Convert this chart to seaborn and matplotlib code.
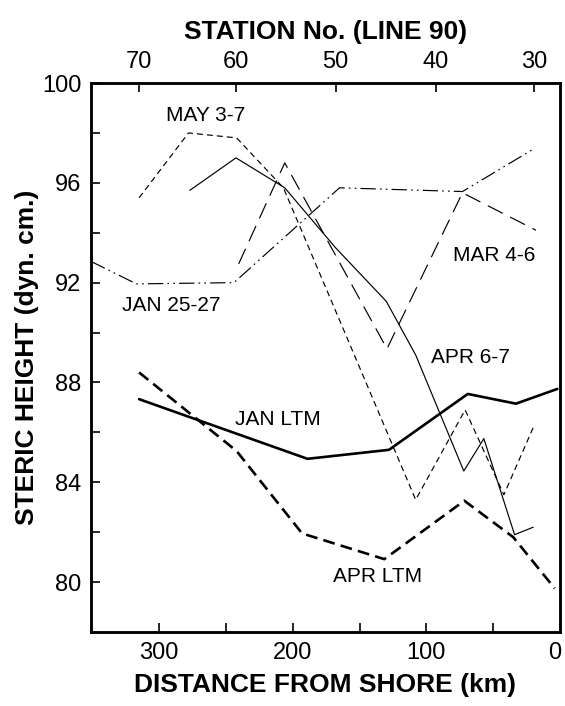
import matplotlib
matplotlib.use('Agg')
import matplotlib.pyplot as plt
import matplotlib.transforms as mtransforms
import seaborn as sns

# distance from shore (km) / steric height (dyn. cm.)
may_km = [315, 278, 242, 207, 108, 71, 42, 20]
may_val = [95.4, 98.0, 97.8, 95.8, 83.3, 86.9, 83.5, 86.2]

apr67_km = [277, 242.5, 206, 168, 130, 108, 72, 57, 34, 20]
apr67_val = [95.7, 97.0, 95.8, 93.4, 91.25, 89.1, 84.45, 85.75, 81.9, 82.2]

mar_km = [240.5, 206, 129.5, 73, 18]
mar_val = [92.75, 96.8, 89.35, 95.6, 94.1]

jan2527_km = [351, 317, 244, 165, 73, 20]
jan2527_val = [92.85, 91.95, 92.0, 95.8, 95.65, 97.35]

janltm_km = [315, 189, 128, 69, 33, 2]
janltm_val = [87.33, 84.94, 85.3, 87.54, 87.15, 87.74]

aprltm_km = [315, 242, 193, 131.5, 71.6, 35, 4]
aprltm_val = [88.4, 85.25, 81.95, 80.92, 83.26, 81.8, 79.75]

# station positions along line 90 (top axis)
station_km = [315, 242.5, 168, 93, 19.5]
station_labels = ['70', '60', '50', '40', '30']

sns.set_style('ticks')
plt.rcParams['font.family'] = ['Liberation Sans', 'DejaVu Sans']
plt.rcParams['lines.scale_dashes'] = False
for key in ('text.color', 'axes.labelcolor', 'xtick.color', 'ytick.color'):
    plt.rcParams[key] = 'black'

fig = plt.figure(figsize=(5.65, 7.06), dpi=100)
ax = fig.add_axes([91 / 565, 1 - 632 / 706, 469 / 565, 549 / 706])

series = [
    (may_km, may_val, 0.85, (0, (4.3, 2.9))),
    (apr67_km, apr67_val, 0.85, '-'),
    (mar_km, mar_val, 0.85, (0, (12, 6))),
    (jan2527_km, jan2527_val, 0.85, (0, (11, 3, 1.2, 3, 1.2, 3))),
    (janltm_km, janltm_val, 1.9, '-'),
    (aprltm_km, aprltm_val, 1.9, (0, (8.5, 4.5))),
]
for km, val, lw, ls in series:
    sns.lineplot(x=km, y=val, ax=ax, color='black', lw=lw, linestyle=ls,
                 sort=False, estimator=None)

# curve labels
ax.text(265, 98.7, 'MAY 3-7', ha='center', va='center', fontsize=15)
ax.text(290.6, 91.07, 'JAN 25-27', ha='center', va='center', fontsize=15)
ax.text(49.4, 93.09, 'MAR 4-6', ha='center', va='center', fontsize=15)
ax.text(67.4, 88.99, 'APR 6-7', ha='center', va='center', fontsize=15)
ax.text(211.3, 86.5, 'JAN LTM', ha='center', va='center', fontsize=15)
ax.text(136.5, 80.23, 'APR LTM', ha='center', va='center', fontsize=15)

ax.set_xlim(351, 0)
ax.set_ylim(78, 100)
ax.set_xticks([300, 200, 100, 0])
ax.set_xticks([250, 150, 50], minor=True)
ax.set_yticks([80, 84, 88, 92, 96, 100])
ax.set_yticks([82, 86, 90, 94, 98], minor=True)
ax.tick_params(which='both', direction='in', length=6.5, width=1.2,
               top=False, right=False, labelsize=17, pad=7)
ax.set_xlabel('DISTANCE FROM SHORE (km)', fontsize=19, fontweight='bold', labelpad=7)
ax.set_ylabel('STERIC HEIGHT (dyn. cm.)', fontsize=19, fontweight='bold', labelpad=2)

# nudge the "0" label left so it stays inside the figure
shift = mtransforms.ScaledTranslation(-5 / 100, 0, fig.dpi_scale_trans)
last = ax.get_xticklabels()[-1]
last.set_transform(last.get_transform() + shift)

ax2 = ax.twiny()
ax2.set_xlim(ax.get_xlim())
ax2.set_xticks(station_km)
ax2.set_xticklabels(station_labels)
ax2.tick_params(direction='in', length=6.5, width=1.2, labelsize=17, pad=7)
ax2.set_xlabel('STATION No. (LINE 90)', fontsize=19, fontweight='bold', labelpad=9)

for a in (ax, ax2):
    for sp in a.spines.values():
        sp.set_linewidth(1.8)
        sp.set_color('black')

fig.savefig('out.png', dpi=100)
